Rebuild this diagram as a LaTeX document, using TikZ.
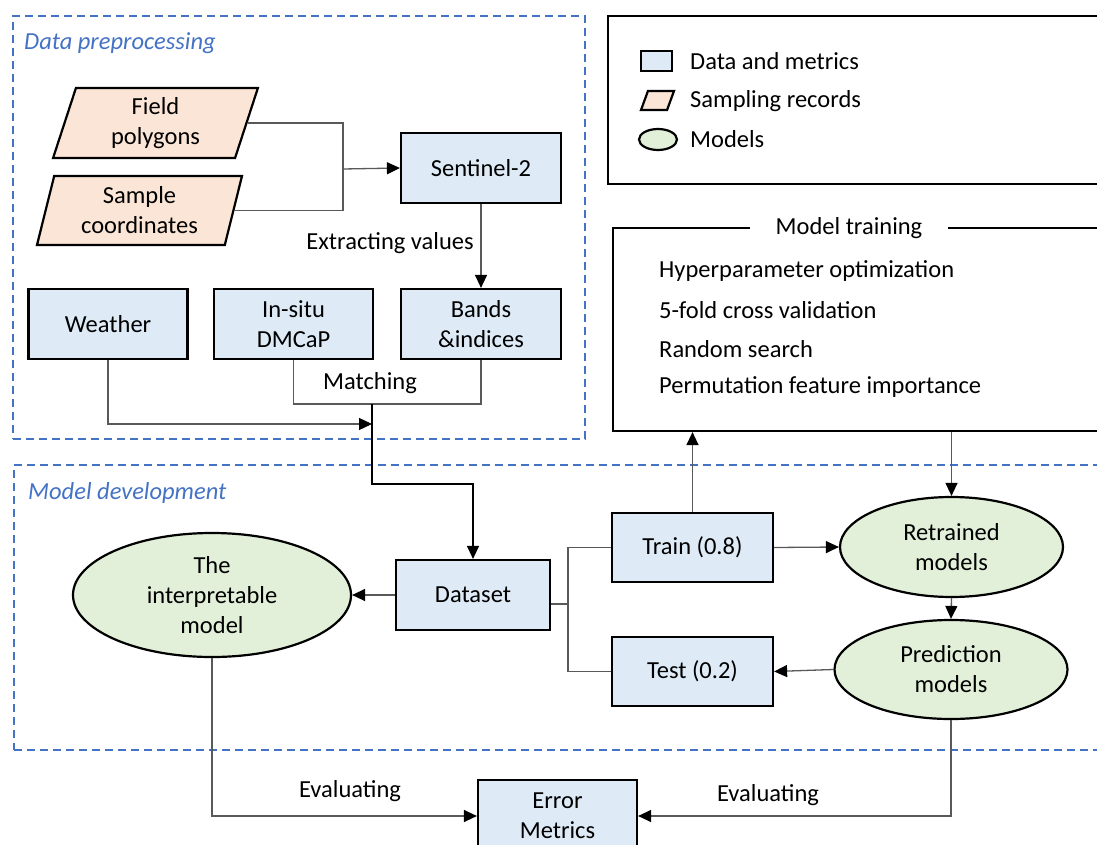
\documentclass[tikz,border=0pt]{standalone}
\usepackage{fontspec}
\setmainfont{Carlito}
\usetikzlibrary{shapes.geometric,arrows.meta}
\definecolor{dataBlue}{HTML}{DEEBF7}
\definecolor{samplePeach}{HTML}{FBE5D6}
\definecolor{modelGreen}{HTML}{E2F0D9}
\definecolor{dashBlue}{HTML}{4472C4}
\definecolor{connGray}{HTML}{595959}
\begin{document}
\begin{tikzpicture}[x=1pt,y=-1pt,
 txt/.style={font=\fontsize{24.5}{30}\selectfont, align=center, inner sep=0pt},
 databox/.style={txt, draw=black, line width=2.2pt, fill=dataBlue, rectangle},
 samplebox/.style={txt, draw=black, line width=2.2pt, fill=samplePeach, trapezium, trapezium left angle=76, trapezium right angle=104, trapezium stretches=true},
 modelbox/.style={txt, draw=black, line width=2.2pt, fill=modelGreen, ellipse},
 frame/.style={draw=black, line width=2.2pt, fill=white, rectangle, inner sep=0pt},
 group/.style={draw=dashBlue, line width=2.2pt, dash pattern=on 8pt off 5pt, rectangle, inner sep=0pt},
 grouplabel/.style={txt, text=dashBlue, font=\fontsize{24.5}{30}\selectfont\itshape, anchor=west},
 conn/.style={draw=connGray, line width=1.3pt},
 arr/.style={conn, -{Triangle[length=13pt,width=12pt,color=black]}},
]
\useasboundingbox (0,0) rectangle (1097,845);
\clip (0,0) rectangle (1097,845);

% groups and frames
\node[group, minimum width=572pt, minimum height=423pt] (dp) at (299,227.5) {};
\node[group, minimum width=1116pt, minimum height=285pt] (md) at (572,607.5) {};
\node[grouplabel] (dpl) at (24,43) {Data preprocessing};
\node[grouplabel] (mdl) at (28,493) {Model development};

\node[frame, minimum width=522pt, minimum height=168pt] (legend) at (869,100) {};
\node[frame, minimum width=517pt, minimum height=203pt] (mt) at (871.5,329.5) {};
\node[txt, fill=white, minimum width=198pt, minimum height=22pt] (mtt) at (849,228) {Model training};
\node[txt, anchor=west] (h1) at (659,271) {Hyperparameter optimization};
\node[txt, anchor=west] (h2) at (659,310) {5-fold cross validation};
\node[txt, anchor=west] (h3) at (659,349) {Random search};
\node[txt, anchor=west] (h4) at (659,387) {Permutation feature importance};

% legend
\node[databox, minimum width=31pt, minimum height=20pt] (lg1) at (656.5,61) {};
\node[samplebox, font=\fontsize{2}{2}\selectfont, inner sep=1pt, trapezium left angle=70, trapezium right angle=110, minimum width=33pt, minimum height=19pt] (lg2) at (657.5,100.5) {};
\node[modelbox, minimum width=38pt, minimum height=21pt] (lg3) at (658,139.5) {};
\node[txt, anchor=west] (lt1) at (690,61) {Data and metrics};
\node[txt, anchor=west] (lt2) at (690,101) {Sampling records};
\node[txt, anchor=west] (lt3) at (690,139) {Models};

% main nodes
\node[samplebox, minimum width=205pt, minimum height=70pt] (fp) at (155.5,123) {Field\\polygons};
\node[samplebox, minimum width=205pt, minimum height=69pt] (sc) at (139.5,210.5) {Sample\\coordinates};
\node[databox, minimum width=160pt, minimum height=70pt] (s2) at (481,168) {Sentinel-2};
\node[databox, minimum width=159pt, minimum height=70pt] (weather) at (108,324) {Weather};
\node[databox, minimum width=159pt, minimum height=70pt] (insitu) at (293.5,324) {In-situ\\DMCaP};
\node[databox, minimum width=160pt, minimum height=70pt] (bands) at (481,324) {Bands\\\&indices};
\node[databox, minimum width=154pt, minimum height=70pt] (dataset) at (473,595) {Dataset};
\node[databox, minimum width=161pt, minimum height=69pt] (train) at (692.5,547.5) {Train (0.8)};
\node[databox, minimum width=161pt, minimum height=69pt] (test) at (692.5,671.5) {Test (0.2)};
\node[modelbox, minimum width=278pt, minimum height=124pt] (interp) at (212,595) {The\\interpretable\\model};
\node[modelbox, minimum width=223pt, minimum height=100pt] (ret) at (951.5,547) {Retrained\\models};
\node[modelbox, minimum width=233pt, minimum height=99pt] (pred) at (951,669.5) {Prediction\\models};
\node[databox, minimum width=159pt, minimum height=72pt] (em) at (557.5,816) {Error\\Metrics};

% junctions
\coordinate (j1) at (343,169);
\coordinate (m) at (372,404);
\coordinate (w1) at (372,424);
\coordinate (d1) at (372,484);
\coordinate (sp) at (568,604);

% connectors
\draw[conn] (fp.east) -| (j1);
\draw[conn] (sc.east) -| (j1);
\draw[arr] (j1) -- (s2.west);
\draw[arr] (s2.south) -- (bands.north);
\node[txt] (evl) at (390,243) {Extracting values};
\draw[conn] (insitu.south) |- (m) -| (bands.south);
\node[txt] (mat) at (370,383) {Matching};
\draw[arr] (weather.south) |- (w1);
\draw[arr, draw=black, line width=1.2pt] (m) -- (d1) -| (dataset.north);
\draw[arr] (dataset.west) -- (interp.east);
\draw[conn] (dataset.east |- sp) -- (sp);
\draw[conn] (train.west) -| (sp) |- (test.west);
\draw[arr] (train.north) -- (train.north |- mt.south);
\draw[arr] (ret.north |- mt.south) -- (ret.north);
\draw[arr] (train.east) -- (ret.west);
\draw[arr] (ret.south) -- (pred.north);
\draw[arr] (pred.west) -- (test.east);
\draw[arr] (pred.south) |- (em.east);
\draw[arr] (interp.south) |- (em.west);
\node[txt] (ev1) at (350,791) {Evaluating};
\node[txt] (ev2) at (768,795) {Evaluating};
\end{tikzpicture}
\end{document}
